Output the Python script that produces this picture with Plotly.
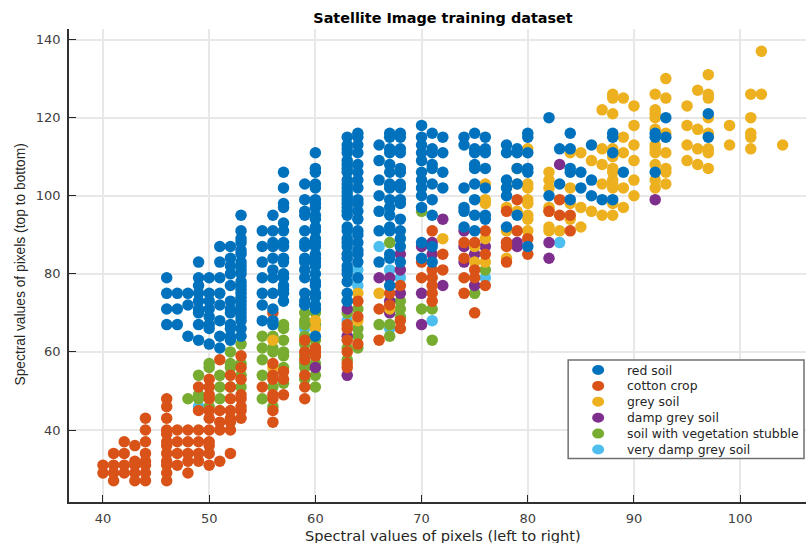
import plotly.graph_objects as go

red_soil = {46:[79,75,71,67],47:[75,71,67],48:[75,72,64],49:[83,79,77,75,73,71,70,67,63],
50:[79,75,73,71,69,67,66,62],51:[87,83,79,75,72,68,64,61],52:[87,84,82,80,77,73,71,70,67,66,64,63],
53:[95,91,89,88,86,85,83,82,81,80,78,77,76,75,74,73,72,71,70,69,68,66,64],
55:[91,87,83,79,75,72,68],56:[95,91,88,87,84,81,79,75,71,68,67],
57:[106,102,98,97,93,91,88,87,84,83,80,79,77,76,75,73],
59:[103,99,96,95,91,88,87,84,83,81,79,75,73,72],
60:[111,107,106,103,102,99,98,97,95,94,92,91,89,88,87,85,84,83,82,80,78,77,75,74,72,71,64],
63:[115,113,112,111,109,108,107,106,104,103,102,101,100,99,98,97,96,95,92,91,89,88,87,85,84,82,81,80,78,75,73],
64:[116,115,113,111,108,106,104,102,99,98,96,94,91,90,88,86,85,83,79],
66:[113,109,104,100,96,91,83],
67:[116,115,112,111,108,106,103,102,99,97,95,92,91,85,84,77],
68:[116,115,112,111,107,106,103,102,99,98,94,91,89,87,83],
70:[118,115,113,111,109,106,104,102,100,97,88,84],
71:[116,112,111,108,107,103,99,95,87,83],
72:[115,111,106,102],
74:[115,113,102,97,96,92],75:[116,112,111,108,107,103,99,95,91],
76:[115,112,111,107,102,95,94],78:[113,111,104,102,100,92],79:[112,111,107,103,95],
80:[116,115,111,107,106,87],82:[120,100],83:[112,103],84:[116,112,107,106,99],
85:[106,102],86:[113,104,100],87:[99],88:[116,115,111,99],89:[106],92:[116,115,106],93:[120,115],97:[121,115]}

cotton_crop = {40:[31,29],41:[34,31,29,27],42:[37,34,31,29],43:[36,32,31,29,27],44:[43,40,37,34,32,31,29,27],
46:[48,46,43,40,39,37,36,34,32,31,29,27],47:[40,37,34,31],48:[40,37,34,32,29],49:[51,45,40,37,34,32],
50:[53,51,49,48,45,43,40,37,36,34,31],51:[58,45,42,40,32],52:[54,51,48,45,43,42,40,34],
53:[59,56,53,49,48,46,45,43],55:[51],56:[70,57,54,53,49,48,45,42],57:[55,53,49],
59:[63,60,58,54,51,48],60:[61,60,59],
63:[67,66,63,60,57,56],64:[73,69,62],66:[71,63],67:[75,72],68:[77,68,66],70:[83,79],
71:[91,81,79,77,75,73],72:[85,81],74:[88,84,79,75],75:[88,81,79,70],76:[91,85,77],
78:[96,88,87,83],79:[99,91],80:[89,85],82:[96],83:[99,95],84:[95,91]}

grey_soil = {56:[63,56],60:[68,66],64:[75,68],66:[75],67:[71],72:[89],75:[87,83],76:[103,99,98,89,83],
78:[97,91,84],79:[107,103,96],80:[112,103,102,99,98,95,94,91],
82:[106,104,102,97,96,92,91],83:[91],84:[111,102,98,94],85:[111,97,92],86:[109,96],
87:[122,112,108,103,95],88:[126,125,121,112,110,107,106,104,103,102,98,95],89:[125,115,111,102,97],
90:[123,118,113,109,104,100],92:[126,122,121,120,117,113,112,111,108,104,102],
93:[130,125,116,111,107,106,103],95:[123,118,113,109],96:[127,117,112,108],
97:[131,126,125,120,116,112,111,107],99:[118,113],101:[126,120,116,115,112],102:[137,126],104:[113]}

damp_grey_soil = {60:[56],63:[71,64,54],66:[79],67:[79,73,70],68:[85,81,75],70:[87,75,67],71:[88,85],
72:[94,77],74:[91,87,83],75:[85,77],76:[87],78:[88],79:[88,87],82:[88,84],83:[108],92:[99]}

soil_with_vegetation_stubble = {48:[48],49:[54,49,48],50:[57,56,46],51:[54,51,48],52:[60,57,56,51],53:[62,57,54,51],
55:[64,61,58,54,48],56:[64,61,60,54,51,46],57:[67,66,63,60,59,56,52],
59:[70,68,67,64,62,59,57,56,53],60:[70,67,63,61,59,57,54,51],
63:[70,61,58],64:[71,66,64,61],66:[67],67:[88,67,64],68:[73,71,69],70:[96,71],71:[71,63],75:[75],76:[81]}

very_damp_grey_soil = {49:[46],59:[66],60:[67],63:[73,68],64:[81,77],66:[87],67:[81,66],68:[79],71:[68],76:[79],83:[88]}

classes = [("very damp grey soil",very_damp_grey_soil,"#4DBEEE"),
("soil with vegetation stubble",soil_with_vegetation_stubble,"#77AC30"),
("damp grey soil",damp_grey_soil,"#7E2F8E"),
("grey soil",grey_soil,"#EDB120"),
("cotton crop",cotton_crop,"#D95319"),
("red soil",red_soil,"#0072BD")]

fig = go.Figure()
for name,d,c in classes:
    xs=[k for k,v in d.items() for _ in v]
    ys=[y for v in d.values() for y in v]
    fig.add_trace(go.Scatter(x=xs,y=ys,mode="markers",name=name,showlegend=False,
        marker=dict(color=c,size=11.5,line=dict(width=0))))

W,H=806,543
ML,MT,MB=68.5,29,41
PW,PH=W-ML,H-MT-MB
def px(x): return (x-ML)/PW          # window px -> plot-area fraction
def py(y): return 1-(y-MT)/PH

SANS="DejaVu Sans"
ax=dict(showline=True,linecolor="#303030",linewidth=1.5,mirror=False,ticks="inside",ticklen=7,tickcolor="#262626",tickwidth=1.2,
    gridcolor="#e8e8e8",gridwidth=1.5,zeroline=False,automargin=False,ticklabelstandoff=4,
    tickfont=dict(family=SANS,size=13,color="#404040"))

shapes=[dict(type="rect",xref="paper",yref="paper",x0=px(568),x1=px(804),y0=py(458.5),y1=py(360),
    fillcolor="white",line=dict(color="#707070",width=1.5),layer="above")]
annos=[]
for i,(name,d,c) in enumerate(reversed(classes)):
    yc=370+i*15.9
    shapes.append(dict(type="circle",xref="paper",yref="paper",x0=px(592),x1=px(604),y0=py(yc+5),y1=py(yc-5),
        fillcolor=c,line=dict(width=0),layer="above"))
    annos.append(dict(text=name,xref="paper",yref="paper",x=px(625),y=py(yc),xanchor="left",yanchor="middle",
        showarrow=False,font=dict(family=SANS,size=12.4,color="#262626")))
annos.append(dict(text="Spectral values of pixels (left to right)",xref="paper",yref="paper",x=px(442.5),y=py(535),
    xanchor="center",yanchor="middle",showarrow=False,font=dict(family=SANS,size=14.6,color="#262626")))
annos.append(dict(text="Spectral values of pixels (top to bottom)",xref="paper",yref="paper",x=px(19),y=py(265),textangle=-90,
    xanchor="center",yanchor="middle",showarrow=False,font=dict(family="Liberation Sans",size=13.8,color="#262626")))

fig.update_layout(width=W,height=H,autosize=False,paper_bgcolor="white",plot_bgcolor="white",
    margin=dict(l=ML,r=0,t=MT,b=MB),shapes=shapes,annotations=annos,showlegend=False,
    title=dict(text="<b>Satellite Image training dataset</b>",x=443/W,xanchor="center",y=1-18/H,yanchor="middle",
        font=dict(family=SANS,size=14.4,color="black")),
    xaxis=dict(ax,range=[36.8,106.2],tickvals=[40,50,60,70,80,90,100]),
    yaxis=dict(ax,range=[21.56,142.7],tickvals=[40,60,80,100,120,140]))
fig.write_html("out.html",post_script="document.body.style.margin='0';",config={"displayModeBar":False})
